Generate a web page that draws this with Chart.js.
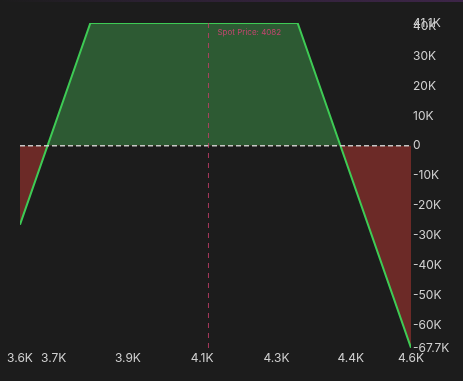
<!DOCTYPE html>
<html>
<head>
<meta charset="utf-8">
<script src="https://cdn.jsdelivr.net/npm/chart.js@4"></script>
<style>
  html, body { margin: 0; padding: 0; background: #1c1c1c; }
  .wrap { position: relative; width: 463px; height: 381px; }
  .topline { position: absolute; left: 0; top: 0; width: 463px; height: 2px;
    background: linear-gradient(to right, #1c1c1c 0%, #2a2030 30%, #3d2548 100%); }
  canvas { display: block; }
</style>
</head>
<body>
<div class="wrap">
  <canvas id="myChart" width="463" height="381"></canvas>
  <div class="topline"></div>
</div>
<script>
    // payoff curve (underlying price -> P/L)
    prices = [3600, 3780, 4310, 4600]
    payoff = [-26400, 41100, 41100, -67650]
    spotPrice = 4082
    xTicks = [3600, 3686, 3876, 4066, 4256, 4446, 4600]
    yTicks = [-67700, -60000, -50000, -40000, -30000, -20000, -10000, 0, 10000, 20000, 30000, 40000, 41100]

    function fmtK(v){
        if (v === 0) return '0'
        var k = v / 1000
        if (Math.abs(k - Math.round(k)) < 0.001) return Math.round(k) + 'K'
        return k.toFixed(1) + 'K'
    }

    const guides = {
        id: 'guides',
        afterDatasetsDraw(chart){
            const ctx = chart.ctx
            const area = chart.chartArea
            const x = chart.scales.x.getPixelForValue(spotPrice)
            const y0 = chart.scales.y.getPixelForValue(0)
            ctx.save()
            // zero line
            ctx.strokeStyle = 'rgba(215,215,215,0.9)'
            ctx.lineWidth = 1.3
            ctx.setLineDash([5, 3])
            ctx.beginPath()
            ctx.moveTo(area.left, y0)
            ctx.lineTo(area.right, y0)
            ctx.stroke()
            // spot price line
            ctx.strokeStyle = 'rgba(190,60,105,0.85)'
            ctx.lineWidth = 1
            ctx.setLineDash([5, 5])
            ctx.beginPath()
            ctx.moveTo(x, area.top)
            ctx.lineTo(x, area.bottom)
            ctx.stroke()
            ctx.setLineDash([])
            ctx.fillStyle = '#c2456f'
            ctx.font = '8px Inter'
            ctx.textBaseline = 'middle'
            ctx.fillText('Spot Price: ' + spotPrice, x + 9, 33)
            ctx.restore()
        }
    }

    const data = {
        datasets: [{
            data: prices.map(function(p, i){ return {x: p, y: payoff[i]} }),
            borderColor: '#3ecb55',
            borderWidth: 2,
            pointRadius: 0,
            tension: 0,
            fill: {
                target: 'origin',
                above: '#2d5a33',
                below: '#6c2a27'
            }
        }]
    };

    const config = {
        type: 'line',
        data: data,
        plugins: [guides],
        options: {
            responsive: false,
            animation: false,
            layout: { padding: { left: 20, top: 23, right: 0, bottom: 0 } },
            plugins: { legend: { display: false }, tooltip: { enabled: false } },
            scales: {
                x: {
                    type: 'linear',
                    min: 3600,
                    max: 4600,
                    grid: { display: false, drawTicks: false },
                    border: { display: false },
                    afterBuildTicks: function(s){ s.ticks = xTicks.map(function(v){ return {value: v} }) },
                    afterFit: function(s){ s.height = 33 },
                    ticks: {
                        color: '#d0d0d0',
                        font: { family: 'Inter', size: 12 },
                        padding: 3,
                        maxRotation: 0,
                        autoSkip: false,
                        callback: function(v){ return (v / 1000).toFixed(1) + 'K' }
                    }
                },
                y: {
                    position: 'right',
                    min: -67700,
                    max: 41100,
                    grid: { display: false, drawTicks: false },
                    border: { display: false },
                    afterBuildTicks: function(s){ s.ticks = yTicks.map(function(v){ return {value: v} }) },
                    afterFit: function(s){ s.width = 52 },
                    ticks: {
                        color: '#d0d0d0',
                        font: { family: 'Inter', size: 12 },
                        padding: 2,
                        autoSkip: false,
                        callback: fmtK
                    }
                }
            }
        }
    };

    const myChart = new Chart(
        document.getElementById('myChart'),
        config
    );
</script>
</body>
</html>
